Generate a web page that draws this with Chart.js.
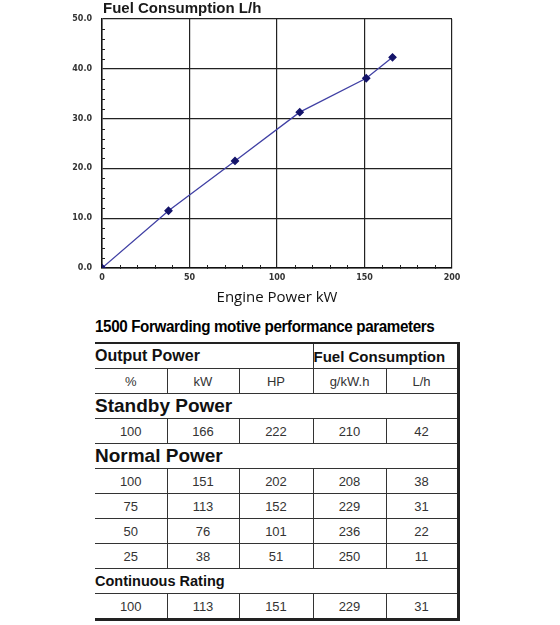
<!DOCTYPE html>
<html>
<head>
<meta charset="utf-8">
<script src="https://cdn.jsdelivr.net/npm/chart.js@4/dist/chart.umd.min.js"></script>
<style>
  body { margin: 0; background: #fff; width: 560px; height: 625px; position: relative; overflow: hidden; }
  #chartBox { position: absolute; left: 0; top: 0; width: 470px; height: 310px; }
  #tblTitle { position: absolute; left: 95px; top: 318px; font: bold 16px "Liberation Sans", Arial, sans-serif; letter-spacing: -0.4px; color: #000; white-space: nowrap; transform: scaleX(0.95); transform-origin: left center; }
  table { position: absolute; left: 95px; top: 342px; border-collapse: collapse; font-family: "Liberation Sans", Arial, sans-serif; }
  td { border: 1px solid #333; height: 24px; padding: 0; text-align: center; font-size: 13px; color: #333; }
  td.first { border-left: none; }
  td.last { border-right: 3px solid #222; }
  tr.top td { border-top: 2px solid #222; }
  tr.bottom td { border-bottom: 3px solid #222; }
  td.head { font-weight: bold; font-size: 15px; color: #111; text-align: left; }
  td.head.wide { font-size: 16px; }
  td.sec { font-weight: bold; font-size: 19px; color: #111; text-align: left; }
  td.sec.small { font-size: 14.5px; }
</style>
</head>
<body>
<div id="chartBox"><canvas id="fuelChart" width="470" height="310"></canvas></div>
<div id="tblTitle">1500 Forwarding motive performance parameters</div>
<table id="perfTable"></table>
<script>
// chart data
const enginePowerKW = [0, 38, 76, 113, 151, 166];
const fuelLh = [0, 11.5, 21.5, 31.3, 38.1, 42.3];

// table data
const columnHeads = ['%', 'kW', 'HP', 'g/kW.h', 'L/h'];
const standbyRows = [[100, 166, 222, 210, 42]];
const normalRows = [
    [100, 151, 202, 208, 38],
    [75, 113, 152, 229, 31],
    [50, 76, 101, 236, 22],
    [25, 38, 51, 250, 11]
];
const continuousRows = [[100, 113, 151, 229, 31]];
const colWidths = [72, 72, 74, 73, 72];

// title + minor ticks
const extras = {
    id: 'extras',
    afterDraw(chart) {
        const { ctx, chartArea, scales } = chart;
        ctx.save();
        ctx.fillStyle = '#1a1a1a';
        ctx.font = 'bold 15px "Liberation Sans", Arial, sans-serif';
        ctx.textBaseline = 'middle';
        ctx.fillText('Fuel Consumption L/h', chartArea.left + 1, 9);
        ctx.strokeStyle = '#222';
        ctx.lineWidth = 1;
        ctx.beginPath();
        for (let v = 0; v <= 50; v += 2) {
            if (v % 10 === 0) continue;
            const y = Math.round(scales.y.getPixelForValue(v)) + 0.5;
            ctx.moveTo(chartArea.left - 1, y);
            ctx.lineTo(chartArea.left + 3, y);
        }
        for (let v = 0; v <= 200; v += 10) {
            if (v % 50 === 0) continue;
            const x = Math.round(scales.x.getPixelForValue(v)) + 0.5;
            ctx.moveTo(x, chartArea.bottom + 1);
            ctx.lineTo(x, chartArea.bottom - 3);
        }
        ctx.stroke();
        ctx.restore();
    }
};

new Chart(document.getElementById('fuelChart'), {
    type: 'line',
    data: {
        datasets: [{
            data: enginePowerKW.map((x, i) => ({ x: x, y: fuelLh[i] })),
            borderColor: '#4040a4',
            borderWidth: 1.3,
            pointStyle: 'rectRot',
            pointRadius: 3.5,
            pointBackgroundColor: '#14146a',
            pointBorderColor: '#14146a',
            tension: 0
        }]
    },
    options: {
        responsive: false,
        animation: false,
        layout: { padding: { top: 19, right: 18, left: 0, bottom: 0 } },
        plugins: { legend: { display: false }, title: { display: false }, tooltip: { enabled: false } },
        scales: {
            x: {
                type: 'linear', min: 0, max: 200,
                ticks: { stepSize: 50, padding: 5, color: '#333', font: { size: 8, weight: 'bold', family: 'DejaVu Sans' } },
                grid: { color: '#222', lineWidth: 1.2, drawTicks: false },
                border: { color: '#111', width: 1.5 },
                title: { display: true, text: 'Engine Power kW', color: '#111', font: { size: 15, family: 'Open Sans' }, padding: { top: 0, bottom: 3 } },
                afterFit: s => { s.height = 42; }
            },
            y: {
                min: 0, max: 50,
                ticks: { stepSize: 10, padding: 10, color: '#333', font: { size: 8, weight: 'bold', family: 'DejaVu Sans' }, callback: v => v.toFixed(1) },
                grid: { color: '#222', lineWidth: 1.2, drawTicks: false },
                border: { color: '#111', width: 1.5 },
                afterFit: s => { s.width = 102; }
            }
        }
    },
    plugins: [extras]
});

// build table
const tbl = document.getElementById('perfTable');
const cg = document.createElement('colgroup');
colWidths.forEach(w => { const c = document.createElement('col'); c.style.width = w + 'px'; cg.appendChild(c); });
tbl.appendChild(cg);

function addRow(cells, cls) {
    const tr = document.createElement('tr');
    if (cls) tr.className = cls;
    cells.forEach(c => {
        const td = document.createElement('td');
        td.textContent = c.text;
        if (c.span) td.colSpan = c.span;
        if (c.cls) td.className = c.cls;
        tr.appendChild(td);
    });
    tbl.appendChild(tr);
}
function dataRows(rows, lastCls) {
    rows.forEach((r, ri) => addRow(r.map((v, i) => ({ text: v, cls: i === 0 ? 'first' : (i === 4 ? 'last' : '') })), ri === rows.length - 1 ? lastCls : ''));
}

addRow([{ text: 'Output Power', span: 3, cls: 'head wide first' }, { text: 'Fuel Consumption', span: 2, cls: 'head last' }], 'top');
addRow(columnHeads.map((h, i) => ({ text: h, cls: i === 0 ? 'first' : (i === 4 ? 'last' : '') })));
addRow([{ text: 'Standby Power', span: 5, cls: 'sec first last' }]);
dataRows(standbyRows);
addRow([{ text: 'Normal Power', span: 5, cls: 'sec first last' }]);
dataRows(normalRows);
addRow([{ text: 'Continuous Rating', span: 5, cls: 'sec small first last' }]);
dataRows(continuousRows, 'bottom');
</script>
</body>
</html>
